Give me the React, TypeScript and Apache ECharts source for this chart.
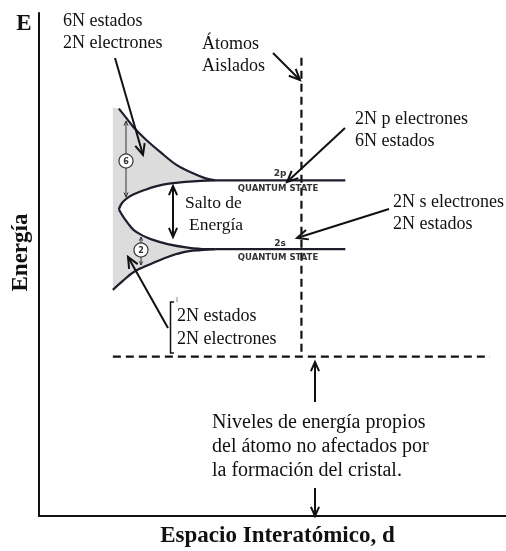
import React, { useEffect, useRef } from "react";
import * as echarts from "echarts";

// Data space: x = interatomic spacing (0 – 468), y = energy (0 – 505)
const upper2pEdge = [[80, 409], [88, 399], [95, 390], [107, 378], [122, 365], [137, 353], [152, 345], [167, 339], [177, 337]];
const lower2pEdge = [[80, 308], [83, 314], [88, 319], [95, 323], [105, 327], [117, 331], [132, 334], [147, 335.5], [162, 336.5], [177, 337]];
const upper2sEdge = [[80, 308], [84, 301], [89, 294], [95, 287], [103, 282], [112, 278], [129, 273], [149, 269.5], [167, 268], [177, 268]];
const lower2sEdge = [[74, 227], [84, 236], [95, 245], [112, 253], [129, 260], [145, 265], [162, 267], [177, 268]];
const level2p = [[177, 337], [307, 337]];
const level2s = [[177, 268], [307, 268]];
const isolatedAtoms = [[263, 460], [263, 160]];
const atomicLevel = [[74, 160], [452, 160]];
const crystalEdgeTop = [74, 410];

const SERIF = "'Liberation Serif', 'Times New Roman', serif";
const INK = "#111";
const CURVE = "#1d1d2c";
const ZG = 20;

function text(t: string, x: number, y: number, size: number, opts: any = {}) {
  return {
    type: "text",
    silent: true,
    z: ZG,
    style: {
      text: t,
      x,
      y,
      fill: opts.fill || INK,
      font: `${opts.weight || "normal"} ${size}px ${opts.family || SERIF}`,
      align: opts.align || "left",
      verticalAlign: "middle",
      textAlign: opts.align || "left",
      textVerticalAlign: "middle",
    },
  };
}

function arrow(x1: number, y1: number, x2: number, y2: number, head = 12, width = 2, color = INK, both = false) {
  const els: any[] = [
    { type: "line", silent: true, z: ZG, shape: { x1, y1, x2, y2 }, style: { stroke: color, lineWidth: width } },
  ];
  const mk = (ax: number, ay: number, bx: number, by: number) => {
    const ang = Math.atan2(by - ay, bx - ax);
    const s = 0.42;
    return {
      type: "polyline",
      silent: true,
      z: ZG,
      shape: {
        points: [
          [bx - head * Math.cos(ang - s), by - head * Math.sin(ang - s)],
          [bx, by],
          [bx - head * Math.cos(ang + s), by - head * Math.sin(ang + s)],
        ],
      },
      style: { stroke: color, lineWidth: width, fill: "none" },
    };
  };
  els.push(mk(x1, y1, x2, y2));
  if (both) els.push(mk(x2, y2, x1, y1));
  return els;
}

export default function App() {
  const ref = useRef<HTMLDivElement>(null);
  useEffect(() => {
    if (!ref.current) return;
    const chart = echarts.init(ref.current, undefined, { renderer: "svg" });
    const envelope = [
      crystalEdgeTop,
      ...upper2pEdge,
      ...lower2pEdge.slice().reverse(),
      ...upper2sEdge.slice(1),
      ...lower2sEdge.slice().reverse(),
    ];
    const curve = (data: number[][], name: string) => ({
      type: "line",
      name,
      data,
      smooth: 0.35,
      symbol: "none",
      silent: true,
      clip: false,
      z: 5,
      lineStyle: { color: CURVE, width: 2.2 },
    });
    const straight = (data: number[][], name: string, dashed = false) => ({
      type: "line",
      name,
      data,
      symbol: "none",
      silent: true,
      clip: false,
      z: 5,
      lineStyle: { color: dashed ? INK : CURVE, width: 2.2, type: dashed ? [8, 5] : "solid" },
    });

    const graphics: any[] = [
      text("E", 24, 22, 23, { weight: "bold", align: "center" }),
      text("6N estados", 63, 20, 18),
      text("2N electrones", 63, 42, 18),
      text("Átomos", 202, 43, 18),
      text("Aislados", 202, 65, 18),
      text("2N p electrones", 355, 118, 18),
      text("6N estados", 355, 140, 18),
      text("Salto de", 185, 202, 17.5),
      text("Energía", 189, 224, 17.5),
      text("2N s electrones", 393, 201, 18),
      text("2N estados", 393, 223, 18),
      text("2N estados", 177, 315, 18),
      text("2N electrones", 177, 338, 18),
      text("Niveles de energía propios", 212, 421, 20),
      text("del átomo no afectados por", 212, 445, 20),
      text("la formación del cristal.", 212, 469, 20),
      text("2p", 280, 173, 9, { weight: "bold", family: "'DejaVu Sans', sans-serif", align: "center", fill: "#333" }),
      text("QUANTUM STATE", 278, 188, 8.5, { weight: "bold", family: "'DejaVu Sans', sans-serif", align: "center", fill: "#333" }),
      text("2s", 280, 243, 9, { weight: "bold", family: "'DejaVu Sans', sans-serif", align: "center", fill: "#333" }),
      text("QUANTUM STATE", 278, 257, 8.5, { weight: "bold", family: "'DejaVu Sans', sans-serif", align: "center", fill: "#333" }),
      ...arrow(115, 58, 143, 155),
      ...arrow(273, 53, 300, 80),
      ...arrow(345, 128, 287, 182),
      ...arrow(389, 209, 297, 238),
      ...arrow(168, 328, 128, 257),
      ...arrow(173, 186, 173, 237, 10, 2, INK, true),
      ...arrow(315, 402, 315, 362, 10),
      ...arrow(315, 488, 315, 516, 10),
      ...arrow(126, 121, 126, 197, 5, 1, "#333", true),
      ...arrow(141, 243, 141, 237, 4, 1, "#333"),
      ...arrow(141, 257, 141, 265, 4, 1, "#333"),
      { type: "circle", silent: true, z: ZG, shape: { cx: 126, cy: 161, r: 7 }, style: { fill: "#fff", stroke: "#333", lineWidth: 1.2 } },
      text("6", 126, 161.5, 8, { align: "center", family: "'DejaVu Sans', sans-serif", fill: "#333", weight: "bold" }),
      { type: "circle", silent: true, z: ZG, shape: { cx: 141, cy: 250, r: 7 }, style: { fill: "#fff", stroke: "#333", lineWidth: 1.2 } },
      text("2", 141, 250.5, 8, { align: "center", family: "'DejaVu Sans', sans-serif", fill: "#333", weight: "bold" }),
      { type: "polyline", silent: true, z: ZG, shape: { points: [[174, 302], [170.5, 302], [170.5, 353], [174, 353]] }, style: { stroke: INK, lineWidth: 1.5, fill: "none" } },
      { type: "line", silent: true, z: ZG, shape: { x1: 177, y1: 297, x2: 177, y2: 302 }, style: { stroke: "#888", lineWidth: 1 } },
    ];

    chart.setOption({
      animation: false,
      grid: { left: 38, right: 0, top: 13, bottom: 33 },
      xAxis: {
        type: "value",
        min: 0,
        max: 468,
        name: "Espacio Interatómico, d",
        nameLocation: "middle",
        nameGap: 7,
        nameTextStyle: { fontFamily: SERIF, fontWeight: "bold", fontSize: 23, color: INK, padding: [0, 0, 0, 10] },
        axisLine: { show: true, onZero: false, lineStyle: { color: INK, width: 2 } },
        axisTick: { show: false },
        axisLabel: { show: false },
        splitLine: { show: false },
      },
      yAxis: {
        type: "value",
        min: 0,
        max: 505,
        name: "Energía",
        nameLocation: "middle",
        nameGap: 8,
        nameRotate: 90,
        nameTextStyle: { fontFamily: SERIF, fontWeight: "bold", fontSize: 23, color: INK, padding: [0, 0, 0, 24] },
        axisLine: { show: true, onZero: false, lineStyle: { color: INK, width: 2 } },
        axisTick: { show: false },
        axisLabel: { show: false },
        splitLine: { show: false },
      },
      series: [
        {
          type: "custom",
          name: "bandas",
          silent: true,
          z: 1,
          data: [[0, 0]],
          renderItem: (_p: any, api: any) => ({
            type: "polygon",
            shape: { points: envelope.map((pt) => api.coord(pt)) },
            style: {
              fill: "#dcdcdc",
              stroke: "none",
              decal: undefined,
            },
          }),
        },
        curve(upper2pEdge, "2p superior"),
        curve(lower2pEdge, "2p inferior"),
        curve(upper2sEdge, "2s superior"),
        curve(lower2sEdge, "2s inferior"),
        straight(level2p, "2p"),
        straight(level2s, "2s"),
        straight(isolatedAtoms, "Átomos aislados", true),
        straight(atomicLevel, "Niveles atómicos", true),
      ],
      graphic: graphics,
    });
    return () => chart.dispose();
  }, []);
  return <div ref={ref} style={{ position: "fixed", left: 0, top: 0, width: 506, height: 551 }} />;
}
